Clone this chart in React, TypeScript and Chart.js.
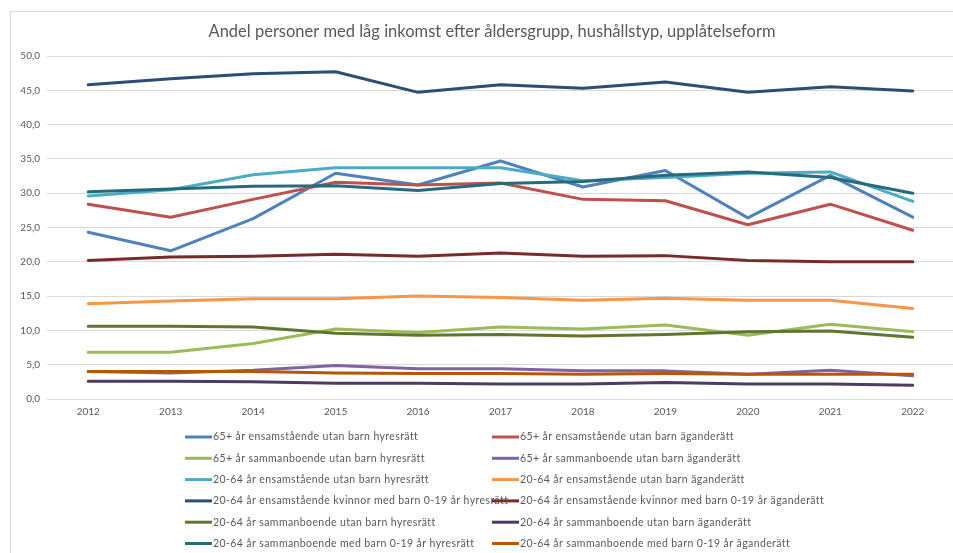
import { useEffect, useRef } from "react";
import { Chart, registerables } from "chart.js";

Chart.register(...registerables);

const TITLE = "Andel personer med låg inkomst efter åldersgrupp, hushållstyp, upplåtelseform";

const years = ["2012", "2013", "2014", "2015", "2016", "2017", "2018", "2019", "2020", "2021", "2022"];

const seriesNames = [
  "65+ år ensamstående utan barn hyresrätt",
  "65+ år ensamstående utan barn äganderätt",
  "65+ år sammanboende utan barn hyresrätt",
  "65+ år sammanboende utan barn äganderätt",
  "20-64 år ensamstående utan barn hyresrätt",
  "20-64 år ensamstående utan barn äganderätt",
  "20-64 år ensamstående kvinnor med barn 0-19 år hyresrätt",
  "20-64 år ensamstående kvinnor med barn 0-19 år äganderätt",
  "20-64 år sammanboende utan barn hyresrätt",
  "20-64 år sammanboende utan barn äganderätt",
  "20-64 år sammanboende med barn 0-19 år hyresrätt",
  "20-64 år sammanboende med barn 0-19 år äganderätt",
];

const old1Hyr = [24.3, 21.6, 26.3, 32.9, 31.2, 34.7, 30.9, 33.3, 26.4, 32.6, 26.5];
const old1Ag = [28.4, 26.5, 29.1, 31.6, 31.2, 31.5, 29.1, 28.9, 25.4, 28.4, 24.6];
const old2Hyr = [6.8, 6.8, 8.1, 10.2, 9.7, 10.5, 10.2, 10.8, 9.3, 10.9, 9.8];
const old2Ag = [4.0, 3.8, 4.2, 4.9, 4.4, 4.4, 4.1, 4.1, 3.6, 4.2, 3.4];
const singleHyr = [29.6, 30.5, 32.7, 33.7, 33.7, 33.7, 31.8, 32.3, 32.9, 33.1, 28.8];
const singleAg = [13.9, 14.3, 14.6, 14.6, 15.0, 14.8, 14.4, 14.7, 14.4, 14.4, 13.2];
const womenHyr = [45.8, 46.7, 47.4, 47.7, 44.7, 45.8, 45.3, 46.2, 44.7, 45.5, 44.9];
const womenAg = [20.2, 20.7, 20.8, 21.1, 20.8, 21.3, 20.8, 20.9, 20.2, 20.0, 20.0];
const coupleHyr = [10.6, 10.6, 10.5, 9.6, 9.3, 9.4, 9.2, 9.4, 9.8, 9.9, 9.0];
const coupleAg = [2.6, 2.6, 2.5, 2.3, 2.3, 2.2, 2.2, 2.4, 2.2, 2.2, 2.0];
const familyHyr = [30.2, 30.6, 31.0, 31.1, 30.4, 31.4, 31.7, 32.6, 33.1, 32.3, 30.0];
const familyAg = [4.0, 4.0, 4.0, 3.8, 3.7, 3.7, 3.6, 3.7, 3.6, 3.6, 3.6];

const seriesValues = [
  old1Hyr, old1Ag, old2Hyr, old2Ag, singleHyr, singleAg,
  womenHyr, womenAg, coupleHyr, coupleAg, familyHyr, familyAg,
];

const seriesColors = [
  "#4F81BD", "#C0504D", "#9BBB59", "#8064A2", "#4BACC6", "#F79646",
  "#2C4D75", "#772C2A", "#5F7530", "#4D3B62", "#276A7C", "#B65708",
];

const Y_MIN = 0;
const Y_MAX = 50;
const Y_STEP = 5;

const TEXT_COLOR = "#595959";
const GRID_COLOR = "#D9D9D9";

const decorPlugin = {
  id: "decor",
  afterDraw(chart: any) {
    const ctx = chart.ctx as CanvasRenderingContext2D;
    ctx.save();
    // chart frame
    ctx.strokeStyle = GRID_COLOR;
    ctx.lineWidth = 1;
    ctx.strokeRect(10.5, 11.5, chart.width - 11, chart.height + 20);
    // title
    ctx.fillStyle = TEXT_COLOR;
    ctx.font = "16.5px Lato";
    ctx.textAlign = "center";
    ctx.textBaseline = "middle";
    ctx.fillText(TITLE, 492, 32);
    // legend
    const colX = [185, 492];
    const rowY0 = 437;
    const rowH = 21.3;
    ctx.font = "10.5px Lato";
    ctx.textAlign = "left";
    (ctx as any).letterSpacing = "0.4px";
    seriesNames.forEach((name, i) => {
      const x = colX[i % 2];
      const y = rowY0 + Math.floor(i / 2) * rowH;
      ctx.strokeStyle = seriesColors[i];
      ctx.lineWidth = 3;
      ctx.beginPath();
      ctx.moveTo(x, y);
      ctx.lineTo(x + 27, y);
      ctx.stroke();
      ctx.fillStyle = TEXT_COLOR;
      ctx.fillText(name, x + 28, y);
    });
    ctx.restore();
  },
};

export default function App() {
  const canvasRef = useRef<HTMLCanvasElement | null>(null);

  useEffect(() => {
    if (!canvasRef.current) return;
    const chart = new Chart(canvasRef.current, {
      type: "line",
      data: {
        labels: years,
        datasets: seriesNames.map((name, i) => ({
          label: name,
          data: seriesValues[i],
          borderColor: seriesColors[i],
          backgroundColor: seriesColors[i],
          borderWidth: 3,
          pointRadius: 0,
          pointHoverRadius: 0,
          tension: 0,
          fill: false,
          borderJoinStyle: "round" as const,
          borderCapStyle: "round" as const,
          order: seriesNames.length - 1 - i,
        })),
      },
      options: {
        responsive: false,
        animation: false,
        devicePixelRatio: 1,
        layout: { padding: { left: 10, right: 21, top: 56, bottom: 130 } },
        plugins: {
          legend: { display: false },
          title: { display: false },
          tooltip: { enabled: false },
        },
        scales: {
          x: {
            offset: true,
            grid: { display: false, drawTicks: false },
            border: { display: false },
            ticks: {
              color: TEXT_COLOR,
              font: { family: "Lato", size: 10 },
              padding: 7,
              maxRotation: 0,
            },
            afterFit: (scale: any) => {
              scale.height = 24;
            },
          },
          y: {
            min: Y_MIN,
            max: Y_MAX,
            grid: { color: GRID_COLOR, drawTicks: false, lineWidth: 1 },
            border: { display: false },
            ticks: {
              stepSize: Y_STEP,
              color: TEXT_COLOR,
              font: { family: "Lato", size: 10 },
              padding: 7,
              callback: (v: any) => Number(v).toFixed(1).replace(".", ","),
            },
            afterFit: (scale: any) => {
              scale.width = 37;
            },
          },
        },
      },
      plugins: [decorPlugin],
    });
    return () => chart.destroy();
  }, []);

  return (
    <div
      style={{
        position: "fixed",
        left: 0,
        top: 0,
        width: 953,
        height: 553,
        overflow: "hidden",
        background: "#ffffff",
      }}
    >
      <canvas ref={canvasRef} width={975} height={553} style={{ display: "block" }} />
    </div>
  );
}
